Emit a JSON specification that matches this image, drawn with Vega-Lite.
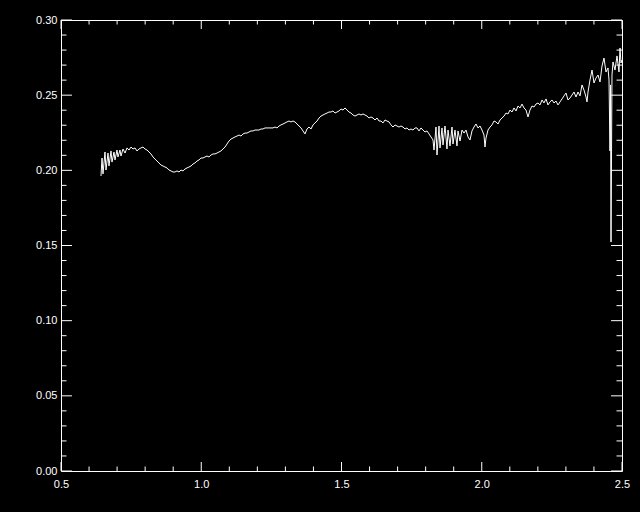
{
  "$schema": "https://vega.github.io/schema/vega-lite/v6.json",
  "width": 561,
  "height": 451,
  "autosize": {"type": "none"},
  "padding": {"left": 61, "top": 20, "right": 18, "bottom": 41},
  "background": "black",
  "config": {
    "view": {"stroke": "white", "strokeWidth": 1},
    "axis": {"labelColor": "white", "domain": false, "grid": false, "ticks": false, "labelFont": "Liberation Sans", "labelFontSize": 11},
    "rule": {"color": "white", "strokeWidth": 1, "opacity": 1}
  },
  "datasets": {
    "xmajor": [{"v":0.5},{"v":1.0},{"v":1.5},{"v":2.0},{"v":2.5}],
    "xminor": [{"v":0.6},{"v":0.7},{"v":0.8},{"v":0.9},{"v":1.1},{"v":1.2},{"v":1.3},{"v":1.4},{"v":1.6},{"v":1.7},{"v":1.8},{"v":1.9},{"v":2.1},{"v":2.2},{"v":2.3},{"v":2.4}],
    "ymajor": [{"v":0},{"v":0.05},{"v":0.1},{"v":0.15},{"v":0.2},{"v":0.25},{"v":0.3}],
    "yminor": [{"v":0.01},{"v":0.02},{"v":0.03},{"v":0.04},{"v":0.06},{"v":0.07},{"v":0.08},{"v":0.09},{"v":0.11},{"v":0.12},{"v":0.13},{"v":0.14},{"v":0.16},{"v":0.17},{"v":0.18},{"v":0.19},{"v":0.21},{"v":0.22},{"v":0.23},{"v":0.24},{"v":0.26},{"v":0.27},{"v":0.28},{"v":0.29}],
    "spectrum": [
    {"x":0.6426,"y":0.1962},{"x":0.6462,"y":0.2082},{"x":0.6497,"y":0.1976},{"x":0.6569,"y":0.2122},{"x":0.6604,"y":0.2002},{"x":0.6676,"y":0.2115},{"x":0.6711,"y":0.2029},{"x":0.6783,"y":0.2129},{"x":0.6818,"y":0.2055},{"x":0.6890,"y":0.2122},{"x":0.6925,"y":0.2069},{"x":0.6996,"y":0.2135},{"x":0.7032,"y":0.2089},{"x":0.7103,"y":0.2135},{"x":0.7139,"y":0.2095},{"x":0.7210,"y":0.2142},{"x":0.7282,"y":0.2115},{"x":0.7353,"y":0.2149},{"x":0.7424,"y":0.2135},{"x":0.7496,"y":0.2155},{"x":0.7567,"y":0.2142},{"x":0.7638,"y":0.2149},{"x":0.7709,"y":0.2129},{"x":0.7781,"y":0.2142},{"x":0.7852,"y":0.2149},{"x":0.7923,"y":0.2155},{"x":0.7995,"y":0.2142},{"x":0.8066,"y":0.2135},{"x":0.8137,"y":0.2122},{"x":0.8209,"y":0.2109},{"x":0.8280,"y":0.2089},{"x":0.8351,"y":0.2075},{"x":0.8422,"y":0.2062},{"x":0.8494,"y":0.2049},{"x":0.8565,"y":0.2035},{"x":0.8636,"y":0.2029},{"x":0.8708,"y":0.2022},{"x":0.8779,"y":0.2016},{"x":0.8850,"y":0.2002},{"x":0.8922,"y":0.1996},{"x":0.8993,"y":0.1989},{"x":0.9064,"y":0.1989},{"x":0.9136,"y":0.1996},{"x":0.9207,"y":0.1989},{"x":0.9278,"y":0.2002},{"x":0.9349,"y":0.1996},{"x":0.9421,"y":0.2009},{"x":0.9492,"y":0.2016},{"x":0.9563,"y":0.2022},{"x":0.9635,"y":0.2029},{"x":0.9706,"y":0.2042},{"x":0.9777,"y":0.2049},{"x":0.9849,"y":0.2062},{"x":0.9920,"y":0.2069},{"x":0.9991,"y":0.2082},{"x":1.0062,"y":0.2082},{"x":1.0134,"y":0.2089},{"x":1.0205,"y":0.2095},{"x":1.0276,"y":0.2089},{"x":1.0348,"y":0.2102},{"x":1.0419,"y":0.2109},{"x":1.0490,"y":0.2109},{"x":1.0562,"y":0.2115},{"x":1.0633,"y":0.2122},{"x":1.0704,"y":0.2129},{"x":1.0775,"y":0.2142},{"x":1.0847,"y":0.2155},{"x":1.0918,"y":0.2175},{"x":1.0989,"y":0.2195},{"x":1.1061,"y":0.2208},{"x":1.1132,"y":0.2215},{"x":1.1203,"y":0.2222},{"x":1.1275,"y":0.2228},{"x":1.1346,"y":0.2235},{"x":1.1417,"y":0.2228},{"x":1.1488,"y":0.2242},{"x":1.1560,"y":0.2248},{"x":1.1631,"y":0.2248},{"x":1.1702,"y":0.2255},{"x":1.1774,"y":0.2262},{"x":1.1845,"y":0.2262},{"x":1.1916,"y":0.2268},{"x":1.1988,"y":0.2268},{"x":1.2059,"y":0.2268},{"x":1.2130,"y":0.2275},{"x":1.2201,"y":0.2275},{"x":1.2273,"y":0.2282},{"x":1.2344,"y":0.2282},{"x":1.2415,"y":0.2282},{"x":1.2487,"y":0.2282},{"x":1.2558,"y":0.2282},{"x":1.2629,"y":0.2288},{"x":1.2701,"y":0.2282},{"x":1.2772,"y":0.2295},{"x":1.2843,"y":0.2302},{"x":1.2914,"y":0.2308},{"x":1.2986,"y":0.2315},{"x":1.3057,"y":0.2322},{"x":1.3128,"y":0.2328},{"x":1.3200,"y":0.2322},{"x":1.3271,"y":0.2328},{"x":1.3342,"y":0.2322},{"x":1.3414,"y":0.2308},{"x":1.3485,"y":0.2295},{"x":1.3556,"y":0.2282},{"x":1.3628,"y":0.2262},{"x":1.3699,"y":0.2242},{"x":1.3770,"y":0.2275},{"x":1.3841,"y":0.2288},{"x":1.3913,"y":0.2275},{"x":1.3984,"y":0.2302},{"x":1.4055,"y":0.2315},{"x":1.4127,"y":0.2328},{"x":1.4198,"y":0.2348},{"x":1.4269,"y":0.2361},{"x":1.4341,"y":0.2368},{"x":1.4412,"y":0.2375},{"x":1.4483,"y":0.2381},{"x":1.4554,"y":0.2388},{"x":1.4626,"y":0.2388},{"x":1.4697,"y":0.2395},{"x":1.4768,"y":0.2381},{"x":1.4840,"y":0.2388},{"x":1.4911,"y":0.2395},{"x":1.4982,"y":0.2408},{"x":1.5054,"y":0.2401},{"x":1.5125,"y":0.2415},{"x":1.5196,"y":0.2401},{"x":1.5267,"y":0.2388},{"x":1.5339,"y":0.2381},{"x":1.5410,"y":0.2368},{"x":1.5481,"y":0.2361},{"x":1.5553,"y":0.2368},{"x":1.5624,"y":0.2375},{"x":1.5695,"y":0.2368},{"x":1.5767,"y":0.2375},{"x":1.5838,"y":0.2368},{"x":1.5909,"y":0.2361},{"x":1.5981,"y":0.2348},{"x":1.6052,"y":0.2355},{"x":1.6123,"y":0.2348},{"x":1.6194,"y":0.2335},{"x":1.6266,"y":0.2348},{"x":1.6337,"y":0.2328},{"x":1.6408,"y":0.2328},{"x":1.6480,"y":0.2315},{"x":1.6551,"y":0.2335},{"x":1.6622,"y":0.2328},{"x":1.6694,"y":0.2322},{"x":1.6765,"y":0.2302},{"x":1.6836,"y":0.2288},{"x":1.6907,"y":0.2302},{"x":1.6979,"y":0.2295},{"x":1.7050,"y":0.2288},{"x":1.7121,"y":0.2295},{"x":1.7193,"y":0.2288},{"x":1.7264,"y":0.2275},{"x":1.7335,"y":0.2282},{"x":1.7407,"y":0.2268},{"x":1.7478,"y":0.2275},{"x":1.7549,"y":0.2268},{"x":1.7620,"y":0.2282},{"x":1.7692,"y":0.2282},{"x":1.7763,"y":0.2262},{"x":1.7834,"y":0.2282},{"x":1.7906,"y":0.2268},{"x":1.7977,"y":0.2255},{"x":1.8048,"y":0.2262},{"x":1.8120,"y":0.2242},{"x":1.8191,"y":0.2222},{"x":1.8262,"y":0.2202},{"x":1.8298,"y":0.2135},{"x":1.8369,"y":0.2288},{"x":1.8405,"y":0.2102},{"x":1.8476,"y":0.2295},{"x":1.8512,"y":0.2149},{"x":1.8583,"y":0.2282},{"x":1.8619,"y":0.2169},{"x":1.8690,"y":0.2295},{"x":1.8761,"y":0.2142},{"x":1.8797,"y":0.2268},{"x":1.8868,"y":0.2162},{"x":1.8940,"y":0.2288},{"x":1.8975,"y":0.2175},{"x":1.9046,"y":0.2268},{"x":1.9118,"y":0.2162},{"x":1.9153,"y":0.2262},{"x":1.9225,"y":0.2195},{"x":1.9296,"y":0.2268},{"x":1.9367,"y":0.2248},{"x":1.9439,"y":0.2268},{"x":1.9510,"y":0.2222},{"x":1.9581,"y":0.2202},{"x":1.9652,"y":0.2262},{"x":1.9724,"y":0.2288},{"x":1.9795,"y":0.2308},{"x":1.9866,"y":0.2282},{"x":1.9938,"y":0.2295},{"x":2.0009,"y":0.2268},{"x":2.0080,"y":0.2235},{"x":2.0116,"y":0.2155},{"x":2.0152,"y":0.2215},{"x":2.0223,"y":0.2268},{"x":2.0294,"y":0.2288},{"x":2.0366,"y":0.2302},{"x":2.0437,"y":0.2328},{"x":2.0508,"y":0.2322},{"x":2.0580,"y":0.2308},{"x":2.0651,"y":0.2335},{"x":2.0722,"y":0.2348},{"x":2.0793,"y":0.2361},{"x":2.0865,"y":0.2381},{"x":2.0936,"y":0.2375},{"x":2.1007,"y":0.2401},{"x":2.1079,"y":0.2388},{"x":2.1150,"y":0.2415},{"x":2.1221,"y":0.2395},{"x":2.1293,"y":0.2428},{"x":2.1364,"y":0.2415},{"x":2.1435,"y":0.2441},{"x":2.1506,"y":0.2415},{"x":2.1578,"y":0.2401},{"x":2.1649,"y":0.2355},{"x":2.1720,"y":0.2401},{"x":2.1792,"y":0.2428},{"x":2.1863,"y":0.2421},{"x":2.1934,"y":0.2441},{"x":2.2006,"y":0.2448},{"x":2.2077,"y":0.2435},{"x":2.2148,"y":0.2468},{"x":2.2219,"y":0.2448},{"x":2.2291,"y":0.2475},{"x":2.2362,"y":0.2435},{"x":2.2433,"y":0.2455},{"x":2.2505,"y":0.2468},{"x":2.2576,"y":0.2448},{"x":2.2647,"y":0.2461},{"x":2.2719,"y":0.2435},{"x":2.2790,"y":0.2455},{"x":2.2861,"y":0.2475},{"x":2.2932,"y":0.2495},{"x":2.3004,"y":0.2514},{"x":2.3075,"y":0.2468},{"x":2.3146,"y":0.2481},{"x":2.3218,"y":0.2501},{"x":2.3289,"y":0.2521},{"x":2.3360,"y":0.2488},{"x":2.3432,"y":0.2521},{"x":2.3503,"y":0.2495},{"x":2.3574,"y":0.2568},{"x":2.3645,"y":0.2534},{"x":2.3717,"y":0.2488},{"x":2.3752,"y":0.2455},{"x":2.3788,"y":0.2521},{"x":2.3859,"y":0.2601},{"x":2.3931,"y":0.2667},{"x":2.4002,"y":0.2581},{"x":2.4073,"y":0.2614},{"x":2.4145,"y":0.2634},{"x":2.4216,"y":0.2588},{"x":2.4287,"y":0.2694},{"x":2.4358,"y":0.2747},{"x":2.4430,"y":0.2654},{"x":2.4501,"y":0.2681},{"x":2.4537,"y":0.2601},{"x":2.4572,"y":0.2129},{"x":2.4590,"y":0.2568},{"x":2.4608,"y":0.1523},{"x":2.4643,"y":0.2634},{"x":2.4679,"y":0.2721},{"x":2.4750,"y":0.2667},{"x":2.4822,"y":0.2761},{"x":2.4893,"y":0.2654},{"x":2.4929,"y":0.2814},{"x":2.4964,"y":0.2714},{"x":2.5000,"y":0.2734}
    ]
  },
  "resolve": {"axis": {"x": "independent", "y": "independent"}},
  "layer": [
    {
      "data": {"name": "spectrum"},
      "mark": {"type": "line", "color": "white", "strokeWidth": 1, "clip": true},
      "encoding": {
        "x": {"field": "x", "type": "quantitative", "title": null,
              "scale": {"domain": [0.5, 2.5], "nice": false, "zero": false},
              "axis": {"orient": "bottom", "values": [0.5, 1.0, 1.5, 2.0, 2.5], "format": ".1f", "labelPadding": 7, "labelFlush": false, "labelOverlap": false}},
        "y": {"field": "y", "type": "quantitative", "title": null,
              "scale": {"domain": [0, 0.3], "nice": false, "zero": false},
              "axis": {"orient": "left", "values": [0, 0.05, 0.1, 0.15, 0.2, 0.25, 0.3], "format": ".2f", "labelPadding": 4, "labelFlush": false, "labelOverlap": false}}
      }
    },
    {
      "data": {"name": "xmajor"},
      "layer": [
        {"mark": {"type": "rule"},
         "encoding": {"x": {"field": "v", "type": "quantitative", "axis": null}, "y": {"datum": 0, "type": "quantitative", "axis": null}, "y2": {"datum": 0.006}}},
        {"mark": {"type": "rule"},
         "encoding": {"x": {"field": "v", "type": "quantitative", "axis": null}, "y": {"datum": 0.3, "type": "quantitative", "axis": null}, "y2": {"datum": 0.294}}}
      ]
    },
    {
      "data": {"name": "xminor"},
      "layer": [
        {"mark": {"type": "rule"},
         "encoding": {"x": {"field": "v", "type": "quantitative", "axis": null}, "y": {"datum": 0, "type": "quantitative", "axis": null}, "y2": {"datum": 0.003}}},
        {"mark": {"type": "rule"},
         "encoding": {"x": {"field": "v", "type": "quantitative", "axis": null}, "y": {"datum": 0.3, "type": "quantitative", "axis": null}, "y2": {"datum": 0.297}}}
      ]
    },
    {
      "data": {"name": "ymajor"},
      "layer": [
        {"mark": {"type": "rule"},
         "encoding": {"y": {"field": "v", "type": "quantitative", "axis": null}, "x": {"datum": 0.5, "type": "quantitative", "axis": null}, "x2": {"datum": 0.539}}},
        {"mark": {"type": "rule"},
         "encoding": {"y": {"field": "v", "type": "quantitative", "axis": null}, "x": {"datum": 2.5, "type": "quantitative", "axis": null}, "x2": {"datum": 2.461}}}
      ]
    },
    {
      "data": {"name": "yminor"},
      "layer": [
        {"mark": {"type": "rule"},
         "encoding": {"y": {"field": "v", "type": "quantitative", "axis": null}, "x": {"datum": 0.5, "type": "quantitative", "axis": null}, "x2": {"datum": 0.5196}}},
        {"mark": {"type": "rule"},
         "encoding": {"y": {"field": "v", "type": "quantitative", "axis": null}, "x": {"datum": 2.5, "type": "quantitative", "axis": null}, "x2": {"datum": 2.4804}}}
      ]
    }
  ]
}
